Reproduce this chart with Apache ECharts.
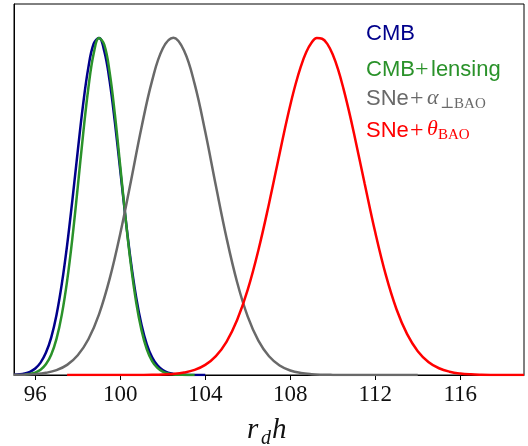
<!DOCTYPE html>
<html>
<head>
<meta charset="utf-8">
<script src="https://cdn.jsdelivr.net/npm/echarts@6/dist/echarts.min.js"></script>
<style>
html,body{margin:0;padding:0;background:#fff;}
#chart{width:528px;height:446px;}
</style>
</head>
<body>
<div id="chart"></div>
<script>
// x-axis tick labels
const xTicks = [96, 100, 104, 108, 112, 116];

// CMB (sampled every 0.25 from 95)
const cmbStart = 95, cmbStep = 0.25;
const cmbY = [0.0008,0.0020,0.0045,0.0096,0.0193,0.0367,0.0657,0.111,0.178,0.270,0.385,0.520,0.664,0.801,0.912,0.982,0.999,0.960,0.872,0.748,0.607,0.465,0.336,0.230,0.149,0.0908,0.0524,0.0286,0.0147,0.0072,0.0033,0.0014,0.0006,0.0002,0.0001,0,0];

// CMB+lensing (sampled every 0.25 from 95.5)
const lensStart = 95.5, lensStep = 0.25;
const lensY = [0.0012,0.0031,0.0071,0.0155,0.0316,0.0601,0.107,0.179,0.279,0.407,0.557,0.712,0.851,0.953,0.999,0.979,0.898,0.771,0.619,0.465,0.327,0.215,0.133,0.0764,0.0412,0.0208,0.0098,0.0043,0.0018,0.0007,0.0003,0.0001,0];

// SNe + alpha_perp BAO (sampled every 0.5 from 95)
const alphaStart = 95, alphaStep = 0.5;
const alphaY = [0.0004,0.0010,0.0026,0.0064,0.0143,0.0300,0.0585,0.106,0.180,0.285,0.419,0.574,0.734,0.873,0.968,1.000,0.962,0.863,0.721,0.561,0.407,0.275,0.173,0.102,0.0556,0.0283,0.0134,0.0059,0.0024,0.0009,0.0003,0.0001,0,0,0,0,0,0,0];

// SNe + theta BAO (denser sampling near the peak)
const thetaX = [97.5,98,98.5,99,99.5,100,100.5,101,101.5,102,102.5,103,103.5,104,104.5,105,105.5,106,106.5,107,107.5,
  107.75,108,108.25,108.5,108.75,109,109.25,109.5,109.75,110,110.25,110.5,110.75,
  111,111.5,112,112.5,113,113.5,114,114.5,115,115.5,116,116.5,117,117.5,118,118.5,119];
const thetaY = [0,0,0,0,0,0,0.0001,0.0002,0.0005,0.0013,0.0032,0.0072,0.0151,0.0300,0.0560,0.0984,0.163,0.253,0.370,0.508,0.657,
  0.731,0.800,0.862,0.915,0.957,0.985,0.999,0.997,0.981,0.950,0.906,0.850,0.786,
  0.716,0.568,0.423,0.296,0.195,0.121,0.0707,0.0388,0.0200,0.0097,0.0044,0.0019,0.0008,0.0003,0.0001,0,0];

function pairs(start, step, ys) {
  return ys.map((y, i) => [start + i * step, y]);
}
function zipXY(xs, ys) {
  return xs.map((x, i) => [x, ys[i]]);
}

const chart = echarts.init(document.getElementById('chart'), null, {renderer: 'canvas'});

const serif = '"Liberation Serif", "DejaVu Serif", serif';
const sans = '"Liberation Sans", "DejaVu Sans", sans-serif';

function lineSeries(name, data, color) {
  return {
    name: name, type: 'line', data: data, showSymbol: false,
    smooth: 0.4, clip: true,
    lineStyle: {color: color, width: 2.5}, itemStyle: {color: color},
    silent: true
  };
}

const cBlue = '#00008b', cGreen = '#2a922a', cGray = '#696969', cRed = '#ff0000';

function txt(x, y, text, color, font, size, style) {
  return {
    type: 'text', x: x, y: y, silent: true,
    style: {text: text, fill: color, fontFamily: font, fontSize: size,
      fontStyle: style || 'normal', align: 'left', verticalAlign: 'middle'}
  };
}

chart.setOption({
  animation: false,
  backgroundColor: '#fff',
  grid: {left: 14, right: 4, top: 4, bottom: 71, show: true, borderColor: '#000', borderWidth: 1, backgroundColor: 'transparent'},
  xAxis: {
    type: 'value', min: 95, max: 119,
    axisLine: {show: true, lineStyle: {color: '#000', width: 1}},
    axisTick: {show: true, customValues: xTicks, length: 5, inside: false, lineStyle: {color: '#000', width: 1}},
    axisLabel: {show: true, customValues: xTicks, margin: 8, color: '#111', fontFamily: serif, fontSize: 23},
    splitLine: {show: false}
  },
  yAxis: {
    type: 'value', min: 0, max: 1.1,
    axisLine: {show: true, lineStyle: {color: '#000', width: 1}},
    axisTick: {show: false}, axisLabel: {show: false}, splitLine: {show: false}
  },
  series: [
    lineSeries('CMB', pairs(cmbStart, cmbStep, cmbY), cBlue),
    lineSeries('CMB+lensing', pairs(lensStart, lensStep, lensY), cGreen),
    lineSeries('SNe+alpha', pairs(alphaStart, alphaStep, alphaY), cGray),
    lineSeries('SNe+theta', zipXY(thetaX, thetaY), cRed)
  ],
  graphic: [
    // legend
    txt(366, 34, 'CMB', cBlue, sans, 22),
    txt(366, 70, 'CMB', cGreen, sans, 22),
    txt(415, 70, '+', cGreen, serif, 24),
    txt(431, 70, 'lensing', cGreen, sans, 22),
    txt(366, 99, 'SNe', cGray, sans, 22),
    txt(410, 99, '+', cGray, serif, 24),
    txt(427, 98, 'α', cGray, serif, 22, 'italic'),
    txt(440, 104, '⊥BAO', cGray, serif, 15),
    txt(366, 131, 'SNe', cRed, sans, 22),
    txt(410, 131, '+', cRed, serif, 24),
    txt(427, 129, 'θ', cRed, serif, 22, 'italic'),
    txt(438, 135, 'BAO', cRed, serif, 15),
    // axis name r_d h
    txt(247, 430, 'r', '#111', serif, 29, 'italic'),
    txt(261, 439, 'd', '#111', serif, 20, 'italic'),
    txt(272, 430, 'h', '#111', serif, 29, 'italic')
  ]
});
</script>
</body>
</html>
